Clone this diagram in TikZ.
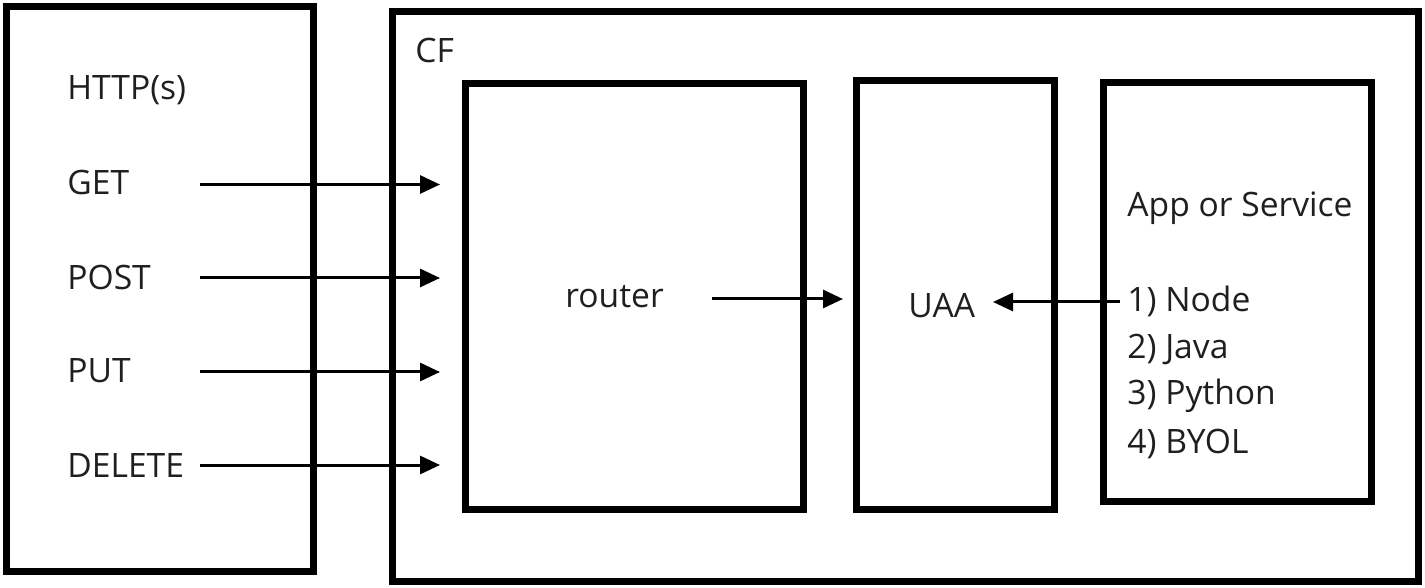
\documentclass[tikz,border=0pt]{standalone}
\usepackage{fontspec}
\setmainfont{Open Sans}
\usetikzlibrary{arrows.meta}
\begin{document}
\begin{tikzpicture}[x=0.5pt,y=-0.5pt,
  box/.style={draw=black,line width=3.5pt,inner sep=0pt,rectangle},
  lbl/.style={anchor=base west,inner sep=0pt,text=black!88,font=\fontsize{16.8}{20}\selectfont},
  conn/.style={line width=1.5pt,-{Triangle[length=10pt,width=9pt]}}]
\useasboundingbox (0,0) rectangle (1425,588);
% boxes
\node[box,minimum width=153.5pt,minimum height=282.25pt] (client) at (160,288.75) {};
\node[box,minimum width=512.75pt,minimum height=284.75pt] (cf) at (905.25,296.25) {};
\node[box,minimum width=168.75pt,minimum height=212.75pt] (routerbox) at (634.25,296.25) {};
\node[box,minimum width=98.75pt,minimum height=214pt] (uaabox) at (955.25,295) {};
\node[box,minimum width=134pt,minimum height=209pt] (appbox) at (1237.5,292) {};
% labels
\node[lbl] (http) at (67,100) {HTTP(s)};
\node[lbl] (get) at (67,195) {GET};
\node[lbl] (post) at (67,290) {POST};
\node[lbl] (put) at (67,383) {PUT};
\node[lbl] (delete) at (67,477) {DELETE};
\node[lbl] (cflbl) at (415,63) {CF};
\node[lbl] (router) at (565,308) {router};
\node[lbl] (uaa) at (908,318) {UAA};
\node[lbl] (app) at (1127,217) {App or Service};
\node[lbl] (node) at (1127,312) {1) Node};
\node[lbl] (java) at (1127,358) {2) Java};
\node[lbl] (python) at (1127,405) {3) Python};
\node[lbl] (byol) at (1127,453) {4) BYOL};
% connector end points
\coordinate (g0) at (200,184.5); \coordinate (g1) at (440,184.5);
\coordinate (p0) at (200,278); \coordinate (p1) at (440,278);
\coordinate (u0) at (200,372); \coordinate (u1) at (440,372);
\coordinate (d0) at (200,465); \coordinate (d1) at (440,465);
\coordinate (r0) at (712,299); \coordinate (r1) at (843,299);
\coordinate (a0) at (1120,302); \coordinate (a1) at (993,302);
\draw[conn] (g0) -- (g1);
\draw[conn] (p0) -- (p1);
\draw[conn] (u0) -- (u1);
\draw[conn] (d0) -- (d1);
\draw[conn] (r0) -- (r1);
\draw[conn] (a0) -- (a1);
\end{tikzpicture}
\end{document}
